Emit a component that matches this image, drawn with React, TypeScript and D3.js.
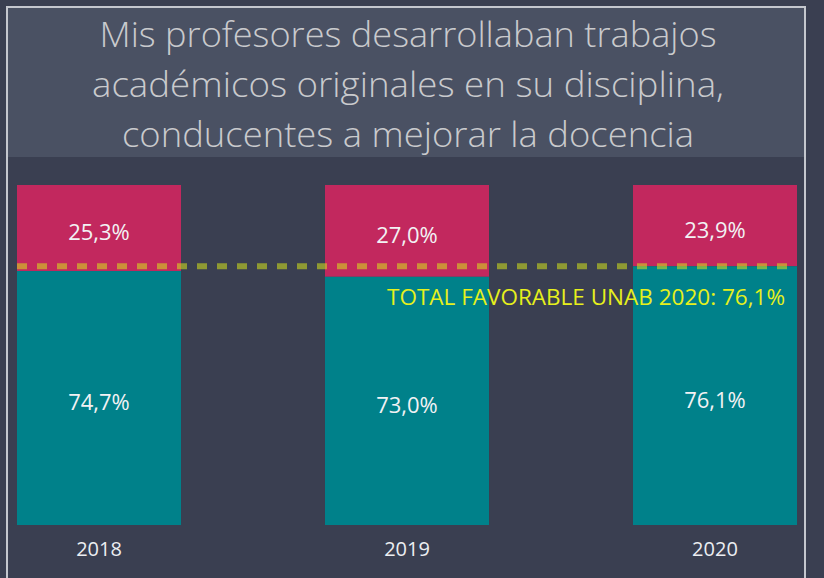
import React from "react";
import * as d3 from "d3";

const years = ["2018", "2019", "2020"];
const favorable = [74.7, 73.0, 76.1];
const unfavorable = [25.3, 27.0, 23.9];
const titleLines = [
  "Mis profesores desarrollaban trabajos",
  "académicos originales en su disciplina,",
  "conducentes a mejorar la docencia",
];
const referenceValue = 76.1;
const referenceLabel = "TOTAL FAVORABLE UNAB 2020: 76,1%";

const W = 824;
const H = 578;
const fmt = (v: number) => v.toFixed(1).replace(".", ",") + "%";

export default function App() {
  const x = d3.scaleBand<string>().domain(years).range([17, 797]).paddingInner(0.4675).paddingOuter(0);
  const y = d3.scaleLinear().domain([0, 100]).range([525, 185]);
  const font = "'Open Sans', 'Noto Sans', sans-serif";
  const titleWidths = [617, 632, 572];

  return (
    <div style={{ position: "absolute", left: 0, top: 0 }}>
      <svg width={W} height={H} style={{ display: "block" }}>
        <rect x={0} y={0} width={W} height={H} fill="#3a3f51" />
        <rect x={7} y={7} width={798} height={150} fill="#4a5163" />
        <rect x={7} y={7} width={798} height={H + 20} fill="none" stroke="#c4c7ce" strokeWidth={2} />
        {titleLines.map((t, i) => (
          <text
            key={i}
            x={408}
            y={47 + i * 50}
            textAnchor="middle"
            fill="#c9cacd"
            fontFamily={font}
            fontWeight={300}
            fontSize={35}
            textLength={titleWidths[i]}
            lengthAdjust="spacingAndGlyphs"
          >
            {t}
          </text>
        ))}
        {years.map((yr, i) => {
          const x0 = x(yr)!;
          const bw = x.bandwidth();
          const yTop = y(favorable[i] + unfavorable[i]);
          const yMid = y(favorable[i]);
          const yBot = y(0);
          return (
            <g key={yr}>
              <rect x={x0} y={yTop} width={bw} height={yMid - yTop} fill="#c2285e" />
              <rect x={x0} y={yMid} width={bw} height={yBot - yMid} fill="#00818a" />
              <text x={x0 + bw / 2} y={(yTop + yMid) / 2 + 12} textAnchor="middle" fill="#f2f2f4" fontFamily={font} fontSize={22}>
                {fmt(unfavorable[i])}
              </text>
              <text x={x0 + bw / 2} y={(yMid + yBot) / 2 + 12} textAnchor="middle" fill="#f2f2f4" fontFamily={font} fontSize={22}>
                {fmt(favorable[i])}
              </text>
              <text x={x0 + bw / 2} y={556} textAnchor="middle" fill="#eceef2" fontFamily={font} fontSize={20}>
                {yr}
              </text>
            </g>
          );
        })}
        <line
          x1={x.range()[0]}
          x2={x.range()[1]}
          y1={y(referenceValue)}
          y2={y(referenceValue)}
          stroke="rgb(214,230,28)"
          strokeOpacity={0.55}
          strokeWidth={6}
          strokeDasharray="10,10"
        />
        <text
          x={785}
          y={305}
          textAnchor="end"
          fill="#e6f01c"
          fontFamily={font}
          fontSize={22}
          textLength={398}
          lengthAdjust="spacingAndGlyphs"
        >
          {referenceLabel}
        </text>
      </svg>
    </div>
  );
}
